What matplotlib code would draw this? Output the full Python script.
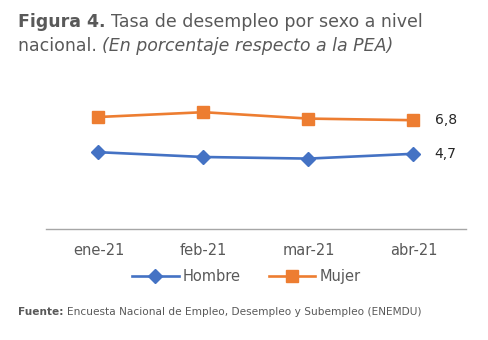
import matplotlib.pyplot as plt

plt.rcParams["font.family"] = ["DejaVu Sans"]

meses = ["ene-21", "feb-21", "mar-21", "abr-21"]
hombre = [4.8, 4.5, 4.4, 4.7]
mujer = [7.0, 7.3, 6.9, 6.8]
etiqueta_hombre = "4,7"
etiqueta_mujer = "6,8"

AZUL = "#4472C4"
NARANJA = "#ED7D31"
GRIS = "#595959"

fig = plt.figure(figsize=(4.89, 3.40), dpi=100)
ax = fig.add_axes([46 / 489, 1 - 229 / 340, 420 / 489, 128 / 340])
renderer = fig.canvas.get_renderer()


def chain_text(x_px, y_px, parts, size):
    """Write text pieces one after another on one line, in pixel coords."""
    for texto, kwargs in parts:
        t = fig.text(x_px / 489, 1 - y_px / 340, texto, fontsize=size, color=GRIS,
                     va="center", **kwargs)
        x_px = t.get_window_extent(renderer).x1


x = list(range(len(meses)))
ax.plot(x, hombre, color=AZUL, lw=1.9, marker="D", markersize=7, label="Hombre")
ax.plot(x, mujer, color=NARANJA, lw=1.9, marker="s", markersize=8.5, label="Mujer")

ax.text(x[-1] + 0.2, hombre[-1], etiqueta_hombre, va="center", ha="left",
        fontsize=10, color="#262626")
ax.text(x[-1] + 0.2, mujer[-1], etiqueta_mujer, va="center", ha="left",
        fontsize=10, color="#262626")

ax.set_xlim(-0.5, 3.5)
ax.set_ylim(0, 8)
ax.set_xticks(x)
ax.set_xticklabels(meses, fontsize=10.5, color=GRIS)
ax.tick_params(axis="x", length=0, pad=10)
ax.set_yticks([])
for side in ["top", "right", "left"]:
    ax.spines[side].set_visible(False)
ax.spines["bottom"].set_color("#A6A6A6")
ax.spines["bottom"].set_linewidth(1.0)

ax.legend(loc="center", bbox_to_anchor=(0.477, -0.37), ncol=2, frameon=False,
          fontsize=10.5, labelcolor=GRIS, handlelength=3.2, handletextpad=0.3,
          columnspacing=1.9)

chain_text(18, 22, [("Figura 4. ", {"fontweight": "bold"}),
                    ("Tasa de desempleo por sexo a nivel", {})], 12.5)
chain_text(18, 46, [("nacional. ", {}),
                    ("(En porcentaje respecto a la PEA)", {"style": "italic"})], 12.5)
chain_text(18, 312, [("Fuente: ", {"fontweight": "bold"}),
                     ("Encuesta Nacional de Empleo, Desempleo y Subempleo (ENEMDU)", {})], 7.6)

fig.savefig("out.png", dpi=100)
